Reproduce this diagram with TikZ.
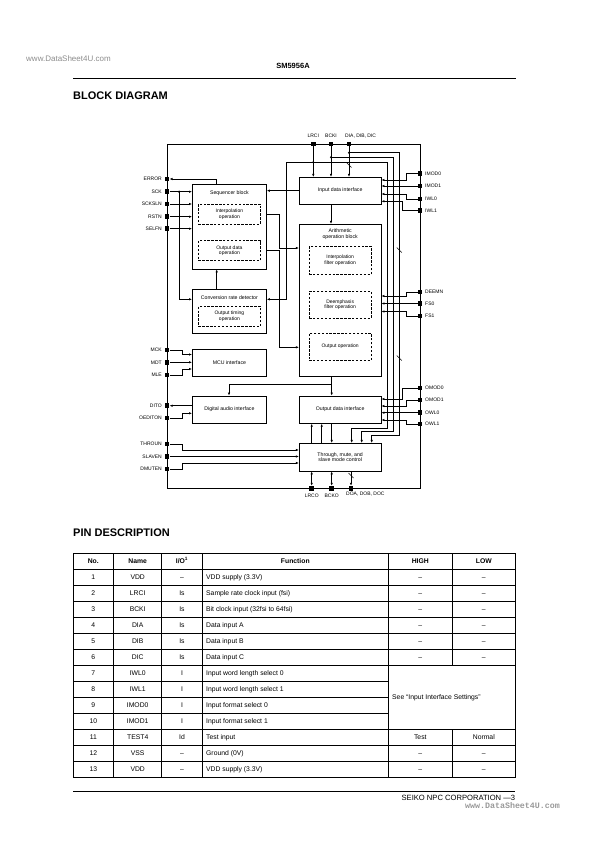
\documentclass[tikz,border=0pt]{standalone}
\usepackage{fontspec}
\setmainfont{Liberation Sans}
\setmonofont{Liberation Mono}
\usetikzlibrary{arrows.meta, positioning}
\tikzstyle{block} = [rectangle, draw=black, line width=0.7pt, minimum width=74pt, align=center, inner sep=1pt, font=\fontsize{5.2}{5.9}\selectfont]
\tikzstyle{wideblock} = [block, minimum width=81.7pt]
\tikzstyle{subbox} = [rectangle, draw=black, dash pattern=on 2.4pt off 1.5pt, line width=0.7pt, minimum width=62pt, align=center, inner sep=1pt, font=\fontsize{5}{5.6}\selectfont]
\tikzstyle{title} = [align=center, inner sep=0pt, font=\fontsize{5.2}{5.6}\selectfont]
\tikzstyle{pin} = [rectangle, fill=black, minimum size=4.6pt, inner sep=0pt]
\tikzstyle{pinlabel} = [inner sep=0.5pt, font=\fontsize{5}{6}\selectfont]
\tikzstyle{wire} = [line width=0.6pt]
\tikzstyle{arrow} = [wire, -{Latex[length=3pt,width=2.4pt]}]
\tikzstyle{biarrow} = [wire, {Latex[length=3pt,width=2.4pt]}-{Latex[length=3pt,width=2.4pt]}]
\tikzstyle{dot} = [circle, fill=black, inner sep=0pt, minimum size=2.4pt]
\tikzstyle{cell} = [inner sep=0pt, text height=4.9pt, text depth=1.4pt, font=\fontsize{6.8}{8}\selectfont]
\tikzstyle{headcell} = [cell, font=\bfseries\fontsize{6.8}{8}\selectfont]

\begin{document}
\begin{tikzpicture}[x=1pt, y=-1pt]
\useasboundingbox (0,0) rectangle (595,842);

% page header
\node (wmtop) [anchor=west, inner sep=0pt, text=black!45, font=\fontsize{8}{9}\selectfont] at (26,59) {www.DataSheet4U.com};
\node (partno) [inner sep=0pt, font=\bfseries\fontsize{7.5}{9}\selectfont] at (293,66) {SM5956A};
\draw[line width=0.8pt] (73,78) -- (516,78);
\node (blocktitle) [anchor=west, inner sep=0pt, font=\bfseries\fontsize{11}{13}\selectfont] at (73,96) {BLOCK DIAGRAM};

% chip outline and pins
\node (chip) [rectangle, draw=black, line width=0.7pt, minimum width=253pt, minimum height=344pt] at (293.5,316) {};
\foreach \name/\y in {ERROR/179, SCK/191.7, SCKSLN/204, RSTN/216.7, SELFN/228.7, MCK/350, MDT/362.3, MLE/375, DITO/405.7, OEDITON/418, THROUN/444, SLAVEN/456.5, DMUTEN/469}{
  \node (p\name) [pin] at (167,\y) {};
  \node (l\name) [pinlabel, left=2pt of p\name] {\name};
}
\foreach \name/\y in {IMOD0/173.5, IMOD1/186, IWL0/199, IWL1/210.5, DEEMN/292, FS0/303.5, FS1/316, OMOD0/388, OMOD1/400, OWL0/412.7, OWL1/424}{
  \node (p\name) [pin] at (420,\y) {};
  \node (l\name) [pinlabel, right=2pt of p\name] {\name};
}
\node (pLRCI) [pin] at (313.3,144) {};
\node (pBCKI) [pin] at (331,144) {};
\node (pDIA) [pin] at (349,144) {};
\node (lLRCI) [pinlabel, above=3pt of pLRCI] {LRCI};
\node (lBCKI) [pinlabel, above=3pt of pBCKI] {BCKI};
\node (lDIA) [pinlabel, anchor=south west] at (344.5,138.6) {DIA, DIB, DIC};
\node (pLRCO) [pin] at (311.7,488.3) {};
\node (pBCKO) [pin] at (331.7,488.3) {};
\node (pDOA) [pin] at (351,488.3) {};
\node (lLRCO) [pinlabel, below=3pt of pLRCO] {LRCO};
\node (lBCKO) [pinlabel, below=3pt of pBCKO] {BCKO};
\node (lDOA) [pinlabel, anchor=north west] at (345.5,491.7) {DOA, DOB, DOC};

% left column
\node (seq) [block, minimum height=84.7pt] at (229.4,226.65) {};
\node (seqtitle) [title] at ([yshift=-9.7pt]seq.north) {Sequencer block};
\node (seqinterp) [subbox, minimum height=20pt] at ([yshift=-30pt]seq.north) {Interpolation\\operation};
\node (seqout) [subbox, minimum height=20pt] at ([yshift=-66.7pt]seq.north) {Output data\\operation};
\node (conv) [block, minimum height=44pt, below=19.6pt of seq] {};
\node (convtitle) [title] at ([yshift=-8.4pt]conv.north) {Conversion rate detector};
\node (convsub) [subbox, minimum height=20pt] at ([yshift=-27.4pt]conv.north) {Output timing\\operation};
\node (mcu) [block, minimum height=27pt, below=15.3pt of conv] {MCU interface};
\node (dai) [block, minimum height=27.3pt, below=19pt of mcu] {Digital audio interface};

% right column
\node (idi) [wideblock, minimum height=26.7pt] at (340.15,190.65) {Input data interface};
\node (arith) [wideblock, minimum height=152.4pt, below=19.6pt of idi] {};
\node (arithtitle) [title] at ([yshift=-10.2pt]arith.north) {Arithmetic\\operation block};
\node (arithinterp) [subbox, minimum height=28.3pt] at ([yshift=-36.55pt]arith.north) {Interpolation\\filter operation};
\node (arithdeemph) [subbox, minimum height=26.6pt] at ([yshift=-80.7pt]arith.north) {Deemphasis\\filter operation};
\node (arithout) [subbox, minimum height=27.4pt] at ([yshift=-122.7pt]arith.north) {Output operation};
\node (odi) [wideblock, minimum height=27.3pt, below=18.6pt of arith] {Output data interface};
\node (thru) [wideblock, minimum height=27.7pt, below=19.3pt of odi] {Through, mute, and\\slave mode control};

% left pins
\draw [arrow] (seq.north -| 216.7,0) |- (pERROR);
\draw [arrow] (pSCK) -- (pSCK -| seq.west);
\node (sckdot) [dot] at (179,191.7) {};
\draw [arrow] (sckdot.center) |- (conv.west |- 0,299.3);
\draw [arrow] (pSCKSLN) -- (pSCKSLN -| seq.west);
\draw [arrow] (pRSTN) -- (pRSTN -| seq.west);
\draw [arrow] (pSELFN) -- (pSELFN -| seq.west);
\draw [arrow] (pMCK) -| (182,354.5) -- (mcu.west |- 0,354.5);
\draw [arrow] (pMDT) -- (pMDT -| mcu.west);
\draw [arrow] (pMLE) -| (182,369) -- (mcu.west |- 0,369);
\draw [arrow] (pDITO -| dai.west) -- (pDITO);
\draw [arrow] (pOEDITON) -| (182,413.3) -- (dai.west |- 0,413.3);
\draw [arrow] (pTHROUN) -| (182,450) -- (thru.west |- 0,450);
\draw [arrow] (pSLAVEN) -- (pSLAVEN -| thru.west);
\draw [arrow] (pDMUTEN) -| (182,463) -- (thru.west |- 0,463);

% top pins
\draw [arrow] (pLRCI) -- (pLRCI |- idi.north);
\draw [arrow] (pBCKI) -- (pBCKI |- idi.north);
\draw [arrow] (pDIA) -- (pDIA |- idi.north);
\node (lrcidot) [dot] at (313.3,162.3) {};
\node (bckidot) [dot] at (331,157.3) {};
\node (diadot) [dot] at (349,152.7) {};
\draw [arrow] (lrcidot.center) -- (286.7,162.3) |- (conv.east |- 0,299.3);
\draw [arrow] (lrcidot.center) -- (387.5,162.3) -- (387.5,428.3) -| (thru.north -| 351.7,0);
\draw [arrow] (bckidot.center) -- (393.5,157.3) -- (393.5,431.7) -| (thru.north -| 361.7,0);
\draw [arrow] (diadot.center) -- (399.3,152.7) -- (399.3,435) -| (thru.north -| 371.7,0);

% between blocks
\draw [arrow] (idi.west) -- (idi.west -| seq.east);
\draw [arrow] (idi.south -| pBCKI) -- (arith.north -| pBCKI);
\draw [arrow] (seqinterp -| seq.east) -| (279,248) -- (arith.west |- 0,248);
\draw [arrow] (seqout -| seq.east) -| (279,347.3) -- (arith.west |- 0,347.3);
\draw [arrow] (conv.north -| 216.7,0) -- (seq.south -| 216.7,0);
\draw [arrow] (arith.south -| 331.7,0) -- (odi.north -| 331.7,0);
\coordinate (daisplit) at (331.7,384);
\draw [arrow] (daisplit) -| (dai.north -| 229,0);

% right pins
\draw [arrow] (pIMOD0) -| (406.7,180) -- (idi.east |- 0,180);
\draw [arrow] (pIMOD1) -- (pIMOD1 -| idi.east);
\draw [arrow] (pIWL0) -| (406.7,194) -- (idi.east |- 0,194);
\draw [arrow] (pIWL1) -| (402.7,201.3) -- (idi.east |- 0,201.3);
\draw [arrow] (pDEEMN) -| (406.7,296) -- (arith.east |- 0,296);
\draw [arrow] (pFS0) -- (pFS0 -| arith.east);
\draw [arrow] (pFS1) -| (406.7,311.5) -- (arith.east |- 0,311.5);
\draw [arrow] (pOMOD0) -| (402.7,399) -- (odi.east |- 0,399);
\draw [arrow] (pOMOD1) -| (406.7,406) -- (odi.east |- 0,406);
\draw [arrow] (pOWL0) -- (pOWL0 -| odi.east);
\draw [arrow] (pOWL1) -| (406.7,420) -- (odi.east |- 0,420);

% through block
\draw [arrow] (thru.north -| 311.7,0) -- (odi.south -| 311.7,0);
\draw [arrow] (thru.north -| 321.7,0) -- (odi.south -| 321.7,0);
\draw [arrow] (odi.south -| 331.7,0) -- (thru.north -| 331.7,0);
\draw [biarrow] (thru.south -| pLRCO) -- (pLRCO);
\draw [biarrow] (thru.south -| pBCKO) -- (pBCKO);
\draw [arrow] (thru.south -| pDOA) -- (pDOA);

% bus marks
\draw [wire] (346.5,162.5) -- (351.5,167.5);
\draw [wire] (396.8,247.5) -- (401.8,252.5);
\draw [wire] (396.8,355.5) -- (401.8,360.5);
\draw [wire] (348.5,473) -- (353.5,478);

% pin description
\node (pintitle) [anchor=west, inner sep=0pt, font=\bfseries\fontsize{11}{13}\selectfont] at (73,533) {PIN DESCRIPTION};
\draw [line width=0.7pt] (73,553.3) rectangle (515.3,777.3);
\foreach \k in {0,...,6,10,11,12}
  \draw [line width=0.6pt] (73,569.3+16*\k) -- (515.3,569.3+16*\k);
\foreach \k in {7,8,9}
  \draw [line width=0.6pt] (73,569.3+16*\k) -- (388.3,569.3+16*\k);
\foreach \x in {113.7,161.7,202.3,388.3}
  \draw [line width=0.6pt] (\x,553.3) -- (\x,777.3);
\draw [line width=0.6pt] (452.3,553.3) -- (452.3,665.3);
\draw [line width=0.6pt] (452.3,729.3) -- (452.3,777.3);

\node (hno) [headcell] at (93.3,561.3) {No.};
\node (hname) [headcell] at (137.7,561.3) {Name};
\node (hio) [headcell] at (182,561.3) {I/O\textsuperscript{1}};
\node (hfn) [headcell] at (295.3,561.3) {Function};
\node (hhi) [headcell] at (420.3,561.3) {HIGH};
\node (hlo) [headcell] at (483.8,561.3) {LOW};
\foreach \no/\nm/\io/\fn/\hi/\lo in {
  1/VDD/\textendash/VDD supply (3.3V)/\textendash/\textendash,
  2/LRCI/Is/Sample rate clock input (fsi)/\textendash/\textendash,
  3/BCKI/Is/Bit clock input (32fsi to 64fsi)/\textendash/\textendash,
  4/DIA/Is/Data input A/\textendash/\textendash,
  5/DIB/Is/Data input B/\textendash/\textendash,
  6/DIC/Is/Data input C/\textendash/\textendash,
  7/IWL0/I/Input word length select 0/{}/{},
  8/IWL1/I/Input word length select 1/{}/{},
  9/IMOD0/I/Input format select 0/{}/{},
  10/IMOD1/I/Input format select 1/{}/{},
  11/TEST4/Id/Test input/Test/Normal,
  12/VSS/\textendash/Ground (0V)/\textendash/\textendash,
  13/VDD/\textendash/VDD supply (3.3V)/\textendash/\textendash}{
  \node (no\no) [cell] at (93.3,561.3+16*\no) {\no};
  \node (name\no) [cell] at (137.7,561.3+16*\no) {\nm};
  \node (io\no) [cell] at (182,561.3+16*\no) {\io};
  \node (fn\no) [cell, anchor=west] at (206,561.3+16*\no) {\fn};
  \node (hi\no) [cell] at (420.3,561.3+16*\no) {\hi};
  \node (lo\no) [cell] at (483.8,561.3+16*\no) {\lo};
}
\node (seeinput) [cell, anchor=west] at (392,697.3) {See “Input Interface Settings”};

% page footer
\draw [line width=0.8pt] (73,791.7) -- (515.3,791.7);
\node (footer) [anchor=east, inner sep=0pt, font=\fontsize{7.6}{9}\selectfont] at (515.3,797.8) {SEIKO NPC CORPORATION —3};
\node (wmbottom) [anchor=west, inner sep=0pt, text=black!40, font=\ttfamily\bfseries\fontsize{8.3}{9}\selectfont] at (465,805.5) {www.DataSheet4U.com};
\end{tikzpicture}
\end{document}
